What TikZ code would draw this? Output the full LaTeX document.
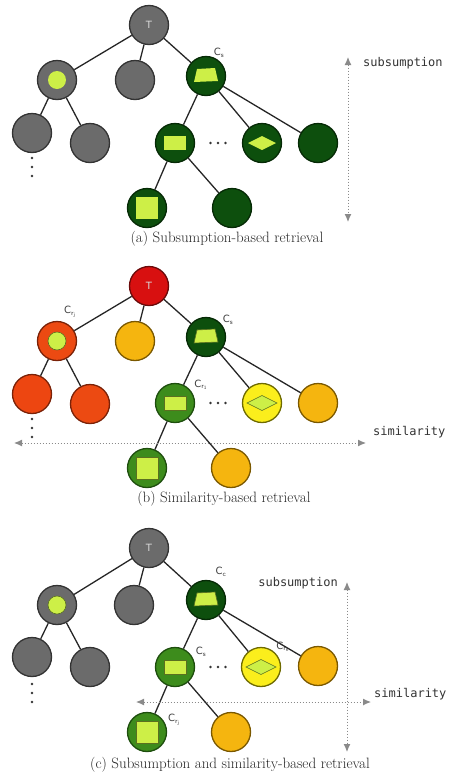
\documentclass[tikz,border=0pt]{standalone}
\usepackage{fontspec}
\newfontfamily\monofont{DejaVu Sans Mono}
\newfontfamily\labelfont{DejaVu Sans}
\usetikzlibrary{shapes.geometric,arrows.meta,calc}

\definecolor{greyfill}{HTML}{6B6B6B}
\definecolor{greyline}{HTML}{333333}
\definecolor{dkgreen}{HTML}{0D4F0D}
\definecolor{dkgreenline}{HTML}{062A06}
\definecolor{mdgreen}{HTML}{3D8C1C}
\definecolor{mdgreenline}{HTML}{1E4E0E}
\definecolor{lime}{HTML}{CDEF47}
\definecolor{limeline}{HTML}{5A7020}
\definecolor{redfill}{HTML}{D81010}
\definecolor{redline}{HTML}{6A0A0A}
\definecolor{orred}{HTML}{EC4A12}
\definecolor{orredline}{HTML}{7A2208}
\definecolor{amber}{HTML}{F5B50F}
\definecolor{amberline}{HTML}{7A5800}
\definecolor{yell}{HTML}{FBEE1C}
\definecolor{yellline}{HTML}{6E6A00}
\definecolor{axisgrey}{HTML}{8A8A8A}

\tikzset{
  x=1pt, y=-1pt,
  concept/.style={circle, minimum size=39pt, inner sep=0pt, line width=1.3pt},
  greyc/.style={concept, fill=greyfill, draw=greyline},
  dkgreenc/.style={concept, fill=dkgreen, draw=dkgreenline},
  mdgreenc/.style={concept, fill=mdgreen, draw=mdgreenline},
  redc/.style={concept, fill=redfill, draw=redline},
  orredc/.style={concept, fill=orred, draw=orredline},
  amberc/.style={concept, fill=amber, draw=amberline},
  yellc/.style={concept, fill=yell, draw=yellline},
  edge/.style={line width=1.3pt, draw=black!85},
  inner/.style={fill=lime},
  innerb/.style={fill=lime, draw=limeline, line width=0.6pt},
  clabel/.style={font=\labelfont\fontsize{10}{11}\selectfont, text=black!75, inner sep=0pt},
  topmark/.style={font=\labelfont\fontsize{10}{11}\selectfont, text=white!85!black},
  axis/.style={draw=axisgrey, line width=1pt, dotted, {Latex[length=8pt,width=7pt]}-{Latex[length=8pt,width=7pt]}},
  axislabel/.style={font=\monofont\fontsize{12}{14}\selectfont, text=black!80, inner sep=0pt},
  caption/.style={font=\fontsize{15}{17}\selectfont, text=black!85, inner sep=0pt}
}

% three-dot marks
\newcommand\vdotsat[1]{\foreach \k in {0,1,2} \fill[black!80] ($(#1)+(0,\k*9)$) circle (1.3pt);}
\newcommand\hdotsat[1]{\foreach \k in {-1,0,1} \fill[black!80] ($(#1)+(\k*7.5,0)$) circle (1.3pt);}

\begin{document}
\begin{tikzpicture}
\useasboundingbox (0,0) rectangle (452,782);

% ---------------- (a) subsumption ----------------
\begin{scope}[shift={(0,25)}]
  \node[greyc] (aT) at (149,0) {};
  \node[greyc] (aA) at (57,55) {};
  \node[greyc] (aB) at (135,55) {};
  \node[dkgreenc] (aS) at (206,51) {};
  \node[greyc] (aA1) at (32,108) {};
  \node[greyc] (aA2) at (90,118) {};
  \node[dkgreenc] (aG) at (175,118) {};
  \node[dkgreenc] (aD) at (262,118) {};
  \node[dkgreenc] (aR) at (318,118) {};
  \node[dkgreenc] (aG1) at (147,183) {};
  \node[dkgreenc] (aG2) at (232,183) {};
  \coordinate (aVd) at (32,133);
  \coordinate (aHd) at (218,118);
\end{scope}

% ---------------- (b) similarity ----------------
\begin{scope}[shift={(0,286)}]
  \node[redc] (bT) at (149,0) {};
  \node[orredc] (bA) at (57,55) {};
  \node[amberc] (bB) at (135,55) {};
  \node[dkgreenc] (bS) at (206,51) {};
  \node[orredc, fill=orred!95!red] (bA1) at (32,108) {};
  \node[orredc] (bA2) at (90,118) {};
  \node[mdgreenc] (bG) at (175,117) {};
  \node[yellc] (bD) at (262,117) {};
  \node[amberc] (bR) at (318,117) {};
  \node[mdgreenc] (bG1) at (147,182) {};
  \node[amberc] (bG2) at (231,182) {};
  \coordinate (bVd) at (32,133);
  \coordinate (bHd) at (218,117);
\end{scope}

% ---------------- (c) combined ----------------
\begin{scope}[shift={(0,548)}]
  \node[greyc] (cT) at (149,0) {};
  \node[greyc] (cA) at (57,57) {};
  \node[greyc] (cB) at (134,57) {};
  \node[dkgreenc] (cS) at (206,52) {};
  \node[greyc] (cA1) at (32,109) {};
  \node[greyc] (cA2) at (90,119) {};
  \node[mdgreenc] (cG) at (175,119) {};
  \node[yellc] (cD) at (261,119) {};
  \node[amberc] (cR) at (318,118) {};
  \node[mdgreenc] (cG1) at (147,184) {};
  \node[amberc] (cG2) at (231,184) {};
  \coordinate (cVd) at (32,136);
  \coordinate (cHd) at (218,119);
\end{scope}

% edges (drawn from node border to node border)
\foreach \p in {a,b,c} {
  \draw[edge] (\p T) -- (\p A);
  \draw[edge] (\p T) -- (\p B);
  \draw[edge] (\p T) -- (\p S);
  \draw[edge] (\p A) -- (\p A1);
  \draw[edge] (\p A) -- (\p A2);
  \draw[edge] (\p S) -- (\p G);
  \draw[edge] (\p S) -- (\p D);
  \draw[edge] (\p S) -- (\p R);
  \draw[edge] (\p G) -- (\p G1);
  \draw[edge] (\p G) -- (\p G2);
  \vdotsat{\p Vd}
  \hdotsat{\p Hd}
  \node[topmark] at (\p T) {T};
}

% inner shapes of panel (a)
\fill[inner] (aA) circle (9pt);
\fill[inner, shift={(aS)}] (-9,-7) -- (9,-8) -- (12,5) -- (-12,6) -- cycle;
\fill[inner] ($(aG)+(-11,-7)$) rectangle ($(aG)+(11,7)$);
\fill[inner] ($(aD)+(-14,0)$) -- ($(aD)+(0,-7)$) -- ($(aD)+(14,0)$) -- ($(aD)+(0,7)$) -- cycle;
\fill[inner] ($(aG1)+(-11,-11)$) rectangle ($(aG1)+(11,11)$);

% inner shapes of panels (b) and (c)
\foreach \p in {b,c} {
  \filldraw[innerb] (\p A) circle (9pt);
  \filldraw[innerb, shift={(\p S)}] (-9,-7) -- (9,-8) -- (12,5) -- (-12,6) -- cycle;
  \filldraw[innerb] ($(\p G)+(-11,-7)$) rectangle ($(\p G)+(11,7)$);
  \filldraw[innerb] ($(\p D)+(-15,0)$) -- ($(\p D)+(0,-7.5)$) -- ($(\p D)+(15,0)$) -- ($(\p D)+(0,7.5)$) -- cycle;
  \filldraw[innerb] ($(\p G1)+(-11,-11)$) rectangle ($(\p G1)+(11,11)$);
}

% concept labels
\node[clabel] (laS) at (219,53) {C$_{\mathsf{s}}$};
\node[clabel] (lbA) at (70,312) {C$_{\mathsf{r_j}}$};
\node[clabel] (lbS) at (228,320) {C$_{\mathsf{s}}$};
\node[clabel] (lbG) at (201,385) {C$_{\mathsf{r_1}}$};
\node[clabel] (lcS) at (221,572) {C$_{\mathsf{c}}$};
\node[clabel] (lcG) at (201,652) {C$_{\mathsf{s}}$};
\node[clabel] (lcD) at (283,647) {C$_{\mathsf{r_k}}$};
\node[clabel] (lcG1) at (174,720) {C$_{\mathsf{r_j}}$};

% axes
\coordinate (aUp) at (348,57);
\coordinate (aDn) at (348,222);
\draw[axis] (aUp) -- (aDn);
\node[axislabel, anchor=west] (aSub) at (363,63) {subsumption};

\coordinate (bL) at (14,443);
\coordinate (bR2) at (366,443);
\draw[axis] (bL) -- (bR2);
\node[axislabel, anchor=west] (bSim) at (373,432) {similarity};

\coordinate (cUp) at (347,582);
\coordinate (cDn) at (347,752);
\coordinate (cL) at (136,702);
\coordinate (cR2) at (371,702);
\draw[axis] (cUp) -- (cDn);
\draw[axis] (cL) -- (cR2);
\node[axislabel, anchor=east] (cSub) at (338,583) {subsumption};
\node[axislabel, anchor=west] (cSim) at (374,694) {similarity};

% captions
\node[caption] (capa) at (227,239) {(a) Subsumption-based retrieval};
\node[caption] (capb) at (224,499) {(b) Similarity-based retrieval};
\node[caption] (capc) at (230,765) {(c) Subsumption and similarity-based retrieval};
\end{tikzpicture}
\end{document}
